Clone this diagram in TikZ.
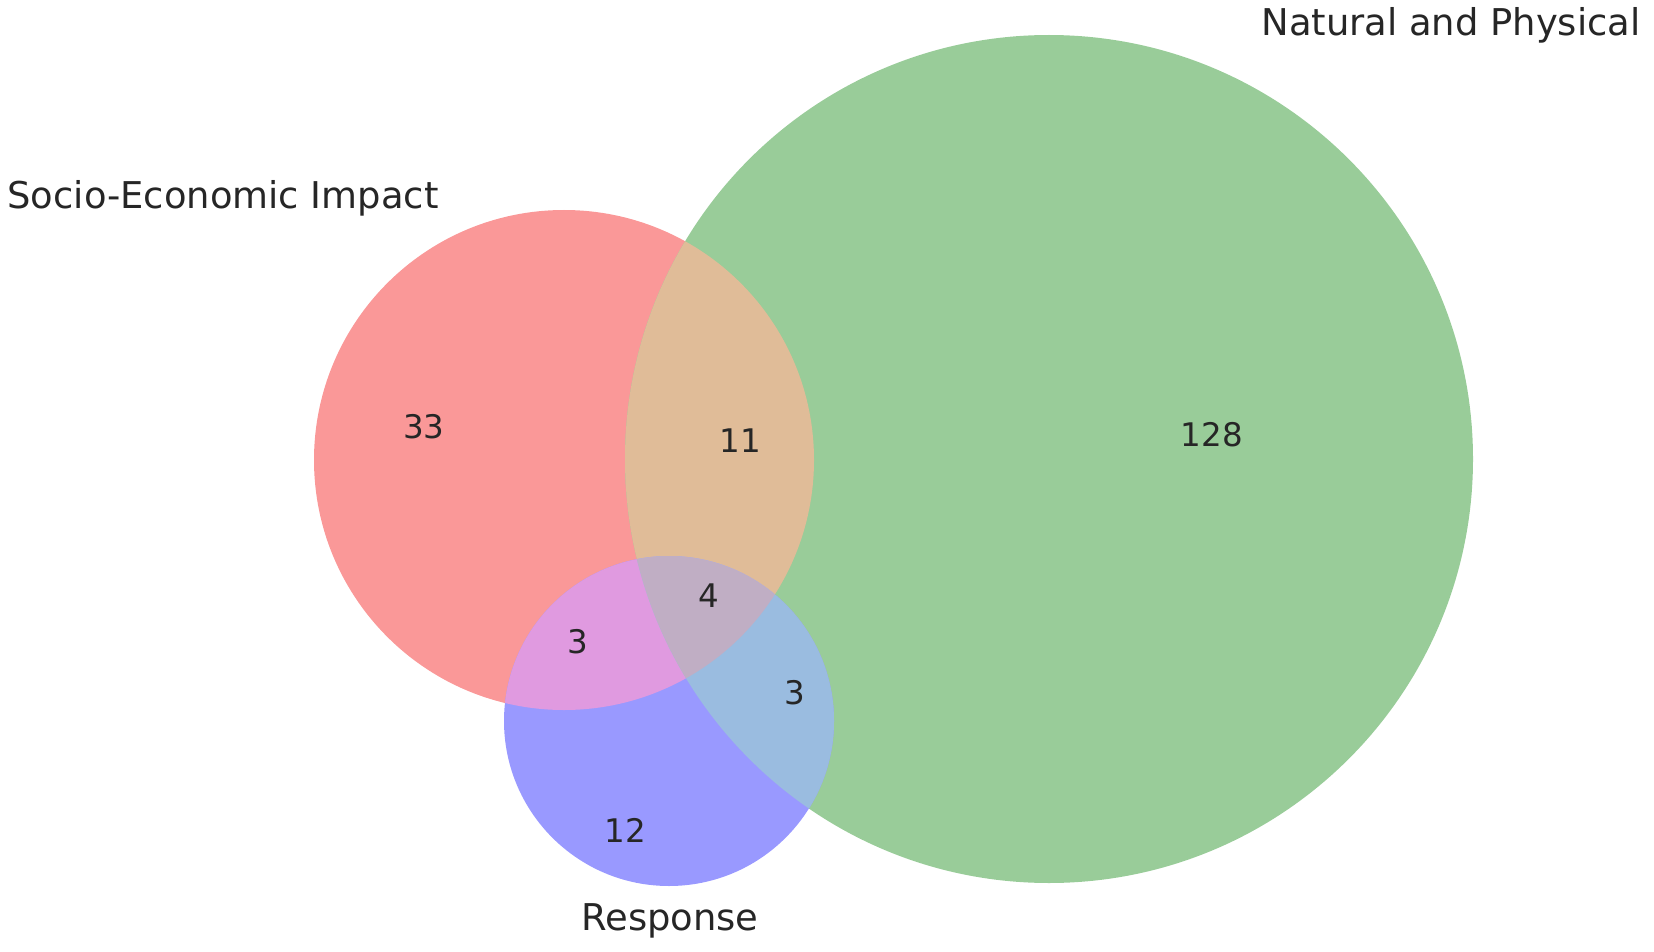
\documentclass[tikz,border=0pt]{standalone}
\usepackage{fontspec}
\setmainfont{DejaVu Sans}
\usepackage{xcolor}
\usepackage{tikz}
\usetikzlibrary{positioning}

\definecolor{socio}{RGB}{250,152,152}
\definecolor{natural}{RGB}{153,204,153}
\definecolor{resp}{RGB}{153,153,255}
\definecolor{socionat}{RGB}{224,188,152}
\definecolor{socioresp}{RGB}{224,154,224}
\definecolor{natresp}{RGB}{154,188,224}
\definecolor{allthree}{RGB}{192,174,196}
\definecolor{txt}{RGB}{38,38,38}

\begin{document}
\begin{tikzpicture}[x=1pt, y=-1pt]
  \useasboundingbox (0, 0) rectangle (1654, 952);
  \coordinate (cS) at (564, 460);
  \coordinate (cN) at (1049, 459);
  \coordinate (cR) at (669, 721);
  \fill[socio] (cS) circle[radius=250];
  \fill[natural] (cN) circle[radius=424];
  \fill[resp] (cR) circle[radius=165];
  \begin{scope}
    \clip (cS) circle[radius=250];
    \fill[socionat] (cN) circle[radius=424];
    \fill[socioresp] (cR) circle[radius=165];
  \end{scope}
  \begin{scope}
    \clip (cN) circle[radius=424];
    \fill[natresp] (cR) circle[radius=165];
    \clip (cS) circle[radius=250];
    \fill[allthree] (cR) circle[radius=165];
  \end{scope}
  % set labels
  \node[txt, anchor=base, font=\fontsize{36.9}{40}\selectfont] (natlabel) at (1451, 36) {Natural and Physical};
  \node[txt, anchor=base, font=\fontsize{36.9}{40}\selectfont] (sociolabel) at (223, 208) {Socio-Economic Impact};
  \node[txt, anchor=base, font=\fontsize{36.9}{40}\selectfont] (resplabel) at (670, 930) {Response};
  % region counts
  \node[txt, font=\fontsize{32.5}{36}\selectfont] (nS) at (424, 427) {33};
  \node[txt, font=\fontsize{32.5}{36}\selectfont] (nSN) at (740, 441) {11};
  \node[txt, font=\fontsize{32.5}{36}\selectfont] (nN) at (1212, 435) {128};
  \node[txt, font=\fontsize{32.5}{36}\selectfont] (nSNR) at (709, 596) {4};
  \node[txt, font=\fontsize{32.5}{36}\selectfont] (nSR) at (578, 642) {3};
  \node[txt, font=\fontsize{32.5}{36}\selectfont] (nNR) at (795, 693) {3};
  \node[txt, font=\fontsize{32.5}{36}\selectfont] (nR) at (625, 830) {12};
\end{tikzpicture}
\end{document}
